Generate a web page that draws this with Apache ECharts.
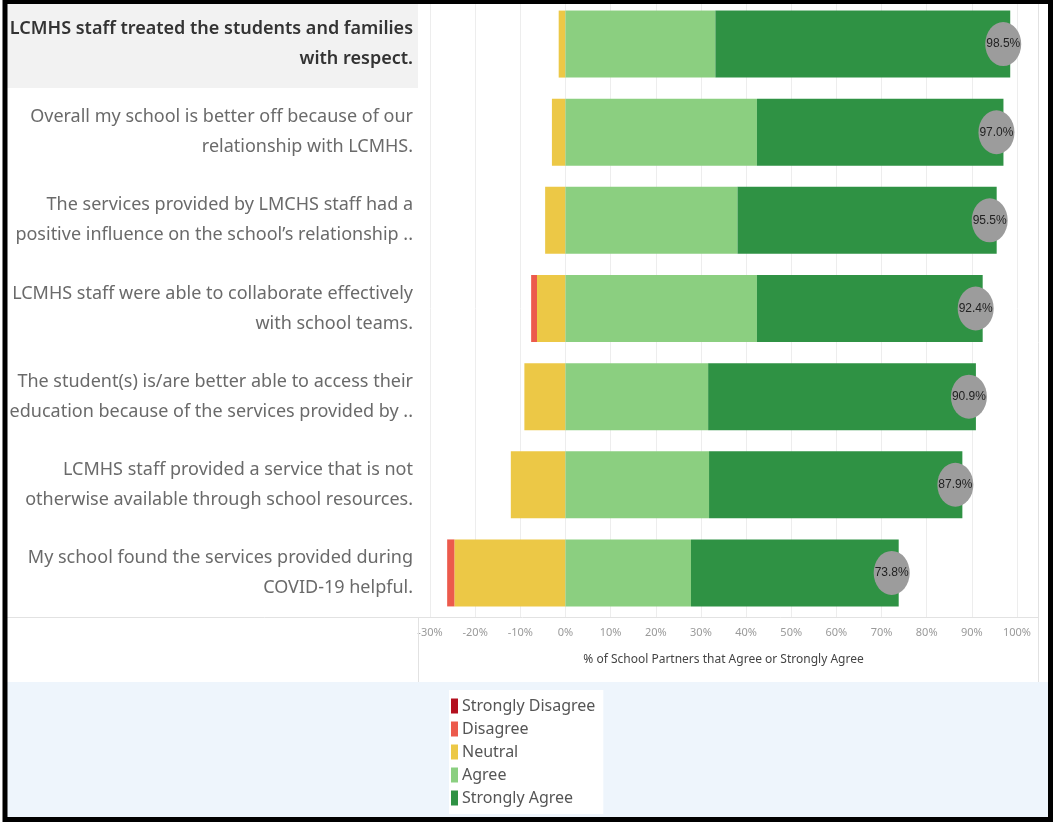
<!DOCTYPE html>
<html>
<head>
<meta charset="utf-8">
<script src="https://cdn.jsdelivr.net/npm/echarts@6/dist/echarts.min.js"></script>
<style>
html,body{margin:0;padding:0;background:#fff;}
#chart{width:1055px;height:823px;}
</style>
</head>
<body>
<div id="chart"></div>
<script>
const categories = [
  "LCMHS staff treated the students and families\nwith respect.",
  "Overall my school is better off because of our\nrelationship with LCMHS.",
  "The services provided by LMCHS staff had a\npositive influence on the school\u2019s relationship ..",
  "LCMHS staff were able to collaborate effectively\nwith school teams.",
  "The student(s) is/are better able to access their\neducation because of the services provided by ..",
  "LCMHS staff provided a service that is not\notherwise available through school resources.",
  "My school found the services provided during\nCOVID-19 helpful."
];
const stronglyDisagree = [0, 0, 0, 0, 0, 0, 0];
const disagree = [0, 0, 0, 1.3, 0, 0, 1.6];
const neutral = [1.5, 3.0, 4.5, 6.3, 9.1, 12.1, 24.6];
const agree = [33.2, 42.4, 38.1, 42.4, 31.6, 31.8, 27.8];
const stronglyAgree = [65.3, 54.6, 57.4, 50.0, 59.3, 56.1, 46.0];
const totals = [98.5, 97.0, 95.5, 92.4, 90.9, 87.9, 73.8];
const xTicks = [-30, 100, 10];
const legendNames = ["Strongly Disagree", "Disagree", "Neutral", "Agree", "Strongly Agree"];

const colors = {
  "Strongly Disagree": "#b3101f",
  "Disagree": "#ec5a4c",
  "Neutral": "#ecc846",
  "Agree": "#8bcf80",
  "Strongly Agree": "#2f9244"
};

const chart = echarts.init(document.getElementById('chart'), null, {renderer: 'canvas'});
const barW = 67;
function barSeries(name, vals, sign) {
  return {
    name: name, type: 'bar', stack: 'total', barWidth: barW,
    itemStyle: {color: colors[name]},
    emphasis: {disabled: true},
    data: vals.map(v => sign * v),
    z: 2
  };
}
const option = {
  animation: false,
  graphic: [
    {type: 'rect', z: -10, shape: {x: 7, y: 3, width: 411, height: 85}, style: {fill: '#f2f2f2'}},
    {type: 'rect', z: -10, shape: {x: 7, y: 682, width: 1041, height: 135}, style: {fill: '#eef5fc'}},
    {type: 'line', z: 5, shape: {x1: 7, y1: 617.5, x2: 1038, y2: 617.5}, style: {stroke: '#e2e2e2', lineWidth: 1}},
    {type: 'line', z: 5, shape: {x1: 418.5, y1: 617, x2: 418.5, y2: 682}, style: {stroke: '#e2e2e2', lineWidth: 1}},
    {type: 'line', z: 5, shape: {x1: 1038.5, y1: 3, x2: 1038.5, y2: 682}, style: {stroke: '#e2e2e2', lineWidth: 1}},
    {type: 'rect', z: 100, shape: {x: 5, y: 1.5, width: 1045.5, height: 818}, style: {fill: null, stroke: '#000', lineWidth: 5}}
  ],
  legend: {
    data: legendNames,
    orient: 'vertical',
    left: 449, top: 690,
    padding: [7, 8, 7, 2],
    backgroundColor: '#ffffff',
    itemWidth: 7, itemHeight: 15, itemGap: 5,
    icon: 'rect',
    selectedMode: false,
    textStyle: {fontFamily: 'Noto Sans', fontSize: 16, color: '#555', lineHeight: 18, padding: [0, 0, 0, -1]}
  },
  grid: {left: 430, right: 38, top: 0, height: 617, containLabel: false},
  xAxis: {
    type: 'value', min: xTicks[0], max: xTicks[1], interval: xTicks[2],
    axisLine: {show: false}, axisTick: {show: false},
    splitLine: {lineStyle: {color: '#ededed', width: 1}},
    axisLabel: {formatter: v => v + '%', color: '#9a9a9a', fontSize: 11, fontFamily: 'Noto Sans', margin: 10},
    name: '% of School Partners that Agree or Strongly Agree',
    nameLocation: 'middle', nameGap: 37,
    nameTextStyle: {color: '#444', fontSize: 12, fontFamily: 'Noto Sans'}
  },
  yAxis: {
    type: 'category', data: categories, inverse: true,
    axisLine: {show: false}, axisTick: {show: false},
    axisLabel: {
      margin: 17, align: 'right',
      formatter: (v, i) => (i === 0 ? '{b|' + v + '}' : '{n|' + v + '}'),
      rich: {
        b: {fontFamily: 'Noto Sans', fontSize: 18, fontWeight: 600, color: '#333', lineHeight: 30, align: 'right'},
        n: {fontFamily: 'Noto Sans', fontSize: 18, color: '#6a6a6a', lineHeight: 30, align: 'right'}
      }
    }
  },
  series: [
    barSeries('Neutral', neutral, -1),
    barSeries('Disagree', disagree, -1),
    barSeries('Strongly Disagree', stronglyDisagree, -1),
    barSeries('Agree', agree, 1),
    barSeries('Strongly Agree', stronglyAgree, 1),
    {
      name: 'Total', type: 'scatter', symbol: 'circle', symbolSize: [36, 44], symbolOffset: [-7, 0],
      itemStyle: {color: '#9c9c9c', opacity: 1},
      emphasis: {disabled: true},
      z: 5,
      label: {show: true, position: 'inside', formatter: p => p.value[0].toFixed(1) + '%',
        color: '#222', fontSize: 12, fontFamily: 'Liberation Sans'},
      data: totals.map((t, i) => [t, i])
    }
  ]
};
chart.setOption(option);
</script>
</body>
</html>
